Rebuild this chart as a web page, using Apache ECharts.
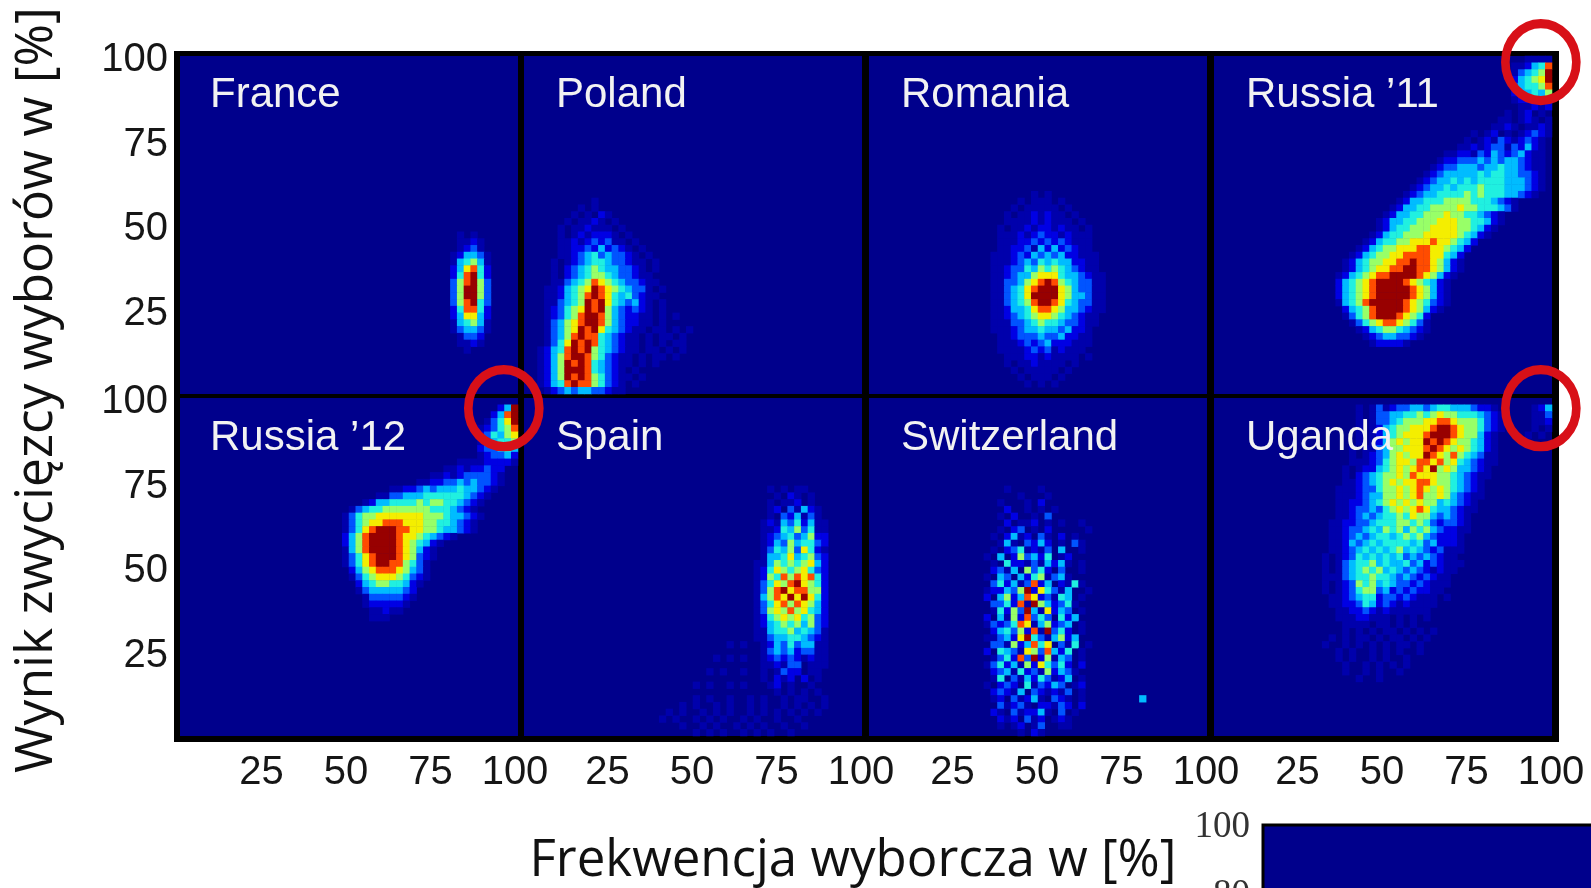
<!DOCTYPE html>
<html><head><meta charset="utf-8">
<style>html,body{margin:0;padding:0;background:#fff;overflow:hidden}#c{width:1591px;height:888px;filter:blur(0.7px)}</style>
<script src="https://cdn.jsdelivr.net/npm/echarts@6/dist/echarts.min.js"></script>
</head><body><div id="c"></div>
<script>
// Each entry: [row counted from the top, first column, intensity digits]; 50 x 50 bins of 2 %.
const franceRows = [
[26,39,"00101000"],[27,39,"00112100"],[28,39,"00123100"],[29,39,"01244310"],[30,39,"01456410"],
[31,39,"02478520"],[32,39,"02589520"],[33,39,"03689630"],[34,39,"03699630"],[35,39,"03699630"],
[36,39,"03689530"],[37,39,"02588520"],[38,39,"02477420"],[39,39,"01456410"],[40,39,"01344310"],
[41,39,"00133200"],[42,39,"00112100"],[43,39,"00010000"]];
const polandRows = [
[21,9,"01"],[22,8,"1010"],[23,7,"101021"],[24,6,"10112101"],[25,5,"1011211101"],[26,5,"10121222101"],
[27,5,"112123231101"],[28,5,"1122324232101"],[29,4,"011234534332101"],[30,4,"1012345543321101"],
[31,4,"1023456544332101"],[32,4,"1023456654332110"],[33,4,"1134568765433211"],[34,3,"112456798765433101"],
[35,3,"112456898754532110"],[36,3,"113456989754342101"],[37,3,"123567989643232101"],[38,3,"12356899864322110101"],
[39,3,"1346789986432211010"],[40,3,"1346798975432110110101"],[41,3,"1346898854321101011010"],
[42,2,"01357989854321101010110"],[43,2,"1245898965432110110101"],[44,2,"1246899865321101011010"],
[45,2,"1246989854321101010"],[46,2,"1246999854321010"],[47,2,"1246989865321101"],[48,2,"1245898865321010"],[49,3,"123434433211"]];
const romaniaRows = [
[20,15,"000000000101000000000"],[21,15,"000000010111010000000"],[22,15,"000000101111101000000"],
[23,15,"000001011212110100000"],[24,15,"000001111212111010000"],[25,15,"000010112122121101000"],
[26,15,"000011121232212111000"],[27,15,"000011122323232111000"],[28,15,"000011223142423211000"],
[29,15,"000111232434342211100"],[30,15,"000111234354544221100"],[31,15,"000112335465654321100"],
[32,15,"000112344677754432110"],[33,15,"000113346789865433110"],[34,15,"000113457899976433110"],
[35,15,"000113457999976443110"],[36,15,"000113456899875433110"],[37,15,"000112445788764432110"],
[38,15,"000112345677654321100"],[39,15,"000111334565543321100"],[40,15,"000111234454434221000"],
[41,15,"000011233343342211000"],[42,15,"000011123234222111000"],[43,15,"000011112323121110000"],
[44,15,"000001112212111101000"],[45,15,"000001011211110100000"],[46,15,"000000101111101000000"],
[47,15,"000000010111010000000"],[48,15,"000000001010100000000"]];
const russia11Rows = [
[0,46,"1111"],[1,44,"112458"],[2,44,"134569"],[3,44,"245679"],[4,44,"345568"],[5,44,"244546"],[6,44,"122323"],[7,44,"011212"],
[8,42,"01012010"],[9,41,"011012101"],[10,40,"0112101121"],[11,37,"0101201012321"],[12,36,"01012132123210"],
[13,35,"011212331324210"],[14,33,"01122132432342110"],[15,32,"012233343434432110"],[16,31,"0123344434454432110"],
[17,30,"01234444454554433210"],[18,29,"012344545455554443210"],[19,28,"0123445455565554443210"],
[20,27,"01234455556565554432100"],[21,27,"124455566665554321"],[22,26,"1244556666766555431"],
[23,25,"124455666766554321"],[24,24,"1244556667776655421"],[25,23,"0124556667777665421"],
[26,22,"0124556667777765421"],[27,21,"012455667778776542"],[28,20,"012456677788776542"],
[29,19,"012456677888877542"],[30,19,"124566778898876421"],[31,18,"0124567788998876421"],
[32,18,"124567889999876421"],[33,18,"24567899998765421"],[34,18,"24567899999876421"],[35,18,"24567899999876421"],
[36,18,"14568999998765321"],[37,18,"0245689999876421"],[38,19,"1356899987652"],[39,20,"135678876531"],
[40,21,"12456654321"],[41,22,"123443321"],[42,23,"122221"]];
const russia12Rows = [
[1,47,"249"],[2,46,"2489"],[3,45,"13579"],[4,44,"123568"],[5,44,"235467"],[6,44,"134556"],[7,44,"233454"],[8,44,"123342"],
[9,41,"111122221"],[10,38,"0112122322"],[11,36,"011212333321"],[12,34,"01122334343321"],[13,30,"01122343444544321"],
[14,28,"0113344455555543210"],[15,26,"0124455556566554321"],[16,25,"13455666666655543210"],[17,24,"135667777777666544321"],
[18,23,"013567788877766554321"],[19,24,"13578999887766544321"],[20,24,"246899998776543210"],[21,24,"2468999987654210"],
[22,24,"14689999876421"],[23,24,"13578999876321"],[24,24,"1357899886531"],[25,25,"246788876431"],
[26,25,"135677765321"],[27,26,"2456655421"],[28,26,"134444432"],[29,27,"13333321"],[30,27,"1222221"],[31,28,"11211"],[32,28,"111"]];
const spainRows = [
[13,33,"0001010110000"],[14,33,"0000102101000"],[15,33,"0001011201000"],[16,33,"0001203142100"],[17,33,"0001032413100"],
[18,33,"0012143524110"],[19,33,"0011254635110"],[20,33,"0012345346220"],[21,33,"0012436455320"],[22,33,"0013546375210"],
[23,33,"0014457456320"],[24,33,"0114656567420"],[25,33,"0125765675320"],[26,33,"0126586878520"],[27,33,"0135768976520"],
[28,33,"0136897886620"],[29,33,"0146879797520"],[30,33,"0135786876420"],[31,33,"0136768675420"],[32,33,"0125676756320"],
[33,33,"0124565646320"],[34,33,"0114556454310"],[35,33,"0113445543210"],[36,33,"0012435344110"],[37,33,"0013434233110"],
[38,33,"0012323212110"],[39,33,"0011213301110"],[40,33,"0010132201100"],[41,33,"0010212020100"],[42,33,"0001201001000"],
[43,33,"0000101010100"],[36,29,"0101"],[38,27,"010101"],[40,26,"0101001"],[42,25,"10100101"],
[44,24,"0101001001010010110010"],[45,22,"01010010100101001010101"],[46,20,"0101001010100101010101010"],
[47,20,"1010010101001010010010"],[48,22,"01001010010101001001"],[49,24,"0101010010101001"]];
const switzerlandRows = [
[13,16,"000010000100000000"],[14,16,"000000100010000000"],[15,16,"000100010200000000"],[16,16,"000020010101000000"],
[17,16,"000102001030000000"],[18,16,"000020112010100100"],[19,16,"000102301020000010"],[20,16,"001024120310201000"],
[21,16,"000141032420103100"],[22,16,"001023512130400100"],[23,16,"010402634250120000"],[24,16,"001052213142410100"],
[25,16,"002314063520300100"],[26,16,"010430425613410000"],[27,16,"003524138240215100"],[28,16,"012243692753140010"],
[29,16,"020462487231540100"],[30,16,"003352819642351000"],[31,16,"001526394172430100"],[32,16,"020416283530524000"],
[33,16,"013235871462340100"],[34,16,"002453628193520100"],[35,16,"011342795314624000"],[36,16,"003316248570315010"],
[37,16,"020543176384250100"],[38,16,"001352839261430100"],[39,16,"013524162753520200"],[40,16,"002341523162431000"],
[41,16,"001503142531240100"],[42,16,"010232051324301200"],[43,16,"002321403212130100"],[44,16,"001203124103210100"],
[45,16,"000312310221320200"],[46,16,"002103122410301000"],[47,16,"000212031201210000"],[48,16,"000101201300110000"],
[49,16,"000000102100000000"],[44,40,"4"]];
const ugandaRows = [
[1,14,"00000001013123344345544432210000"],[2,14,"00000001013344556567665554321000"],[3,14,"00000001013345666778876665321000"],
[4,14,"00000001012456677789987665321000"],[5,14,"00000001012456777899987664210000"],[6,14,"00000001012467677989876654210000"],
[7,14,"00000010113466777898767654210000"],[8,14,"00000010123467677987686543110000"],[9,14,"00000011123567768878675432110000"],
[10,14,"00000101224567678796764432100000"],[11,14,"00000102345667687776654321100000"],[12,14,"00000112345676778876654321000000"],
[13,14,"00001112335667678767654321000000"],[14,14,"00001112344667678667643211000000"],[15,14,"00001122345676767664543210000000"],
[16,14,"00001123343567678754432110000000"],[17,14,"00001123434556576643432100000000"],[18,14,"00011223345556656532332100000000"],
[19,14,"00011233454656465643221100000000"],[20,14,"00011234345545656432221000000000"],[21,14,"00011243454555545342221000000000"],
[22,14,"00011234545456454323111000000000"],[23,14,"00101235454545343432110000000000"],[24,14,"00101345564544534232111000000000"],
[25,14,"00101345656454343212110000000000"],[26,14,"00111345565543432321100000000000"],[27,14,"00101236564543323211100000000000"],
[28,14,"00101235663423232211000000000000"],[29,14,"00011234552332321110100000000000"],[30,14,"00011223542321211110000000000000"],
[31,14,"00001122321211111100000000000000"],[32,14,"00001112211101010100000000000000"],[33,14,"00000111101101010000000000000000"],
[34,14,"00000101010110101010000000000000"],[35,16,"0101011010110101"],[36,16,"1001010101011010"],[37,17,"01010010101001"],
[38,18,"101001010010"],[39,18,"01001010101"],[40,19,"100101001"],[41,20,"0100100"],
[1,47,"124"],[2,47,"113"],[3,47,"112"],[4,47,"101"],[5,46,"1010"]];

const panelNames = ["France","Poland","Romania","Russia ’11","Russia ’12","Spain","Switzerland","Uganda"];
const panelRows = [franceRows,polandRows,romaniaRows,russia11Rows,russia12Rows,spainRows,switzerlandRows,ugandaRows];
const axisTicks = [0,25,50,75,100];
const barTicks = [100,80];
const ringPoints = [[3,96.7,98.2],[4,95.8,97],[7,96.7,97]];
const xTitle = "Frekwencja wyborcza w [%]";
const yTitle = "Wynik zwycięzcy wyborów w [%]";
const colours = ["#00008c","#0000ac","#0000e4","#0054ff","#00bcff","#20f0e0","#98ff68","#f4ee00","#ff4c00","#980000"];

const BINS = 50;
const binCats = [];
for (let i=0;i<BINS;i++) binCats.push(String(i*2));
const lefts=[180,524,869,1214], tops=[56,398], W=338, H=338;
const grid=[],xAxis=[],yAxis=[],series=[],graphicEls=[];
const SANS='"Liberation Sans",Arial,sans-serif';

panelRows.forEach((rows,p)=>{
  const col=p%4,row=p<4?0:1;
  grid.push({left:lefts[col],top:tops[row],width:W,height:H,show:true,backgroundColor:colours[0],borderWidth:0,outerBoundsMode:'none'});
  xAxis.push({gridIndex:p,type:'category',data:binCats,show:false});
  yAxis.push({gridIndex:p,type:'category',data:binCats,show:false});
  xAxis.push({gridIndex:p,type:'value',min:0,max:100,interval:25,position:'bottom',
    axisLine:{show:false},axisTick:{show:false},splitLine:{show:false},
    axisLabel:{show:row===1,margin:17,fontFamily:SANS,fontSize:40,color:'#161616',padding:[0,col===0?6:2,0,0],hideOverlap:false,
      formatter:v=>axisTicks.includes(v)&&v>0?String(v):''}});
  yAxis.push({gridIndex:p,type:'value',min:0,max:100,interval:25,position:'left',
    axisLine:{show:false},axisTick:{show:false},splitLine:{show:false},
    axisLabel:{show:col===0,margin:12,fontFamily:SANS,fontSize:40,color:'#161616',verticalAlign:'top',lineHeight:8,
      formatter:v=>axisTicks.includes(v)&&v>0?String(v):''}});
  const data=[];
  rows.forEach(([r,c,s])=>{
    for(let i=0;i<s.length;i++){const v=+s[i]; if(v>0) data.push([c+i,BINS-1-r,v]);}
  });
  series.push({type:'heatmap',name:panelNames[p],xAxisIndex:p*2,yAxisIndex:p*2,data,progressive:0,animation:false,
    itemStyle:{borderWidth:0},emphasis:{disabled:true}});
  graphicEls.push({type:'text',x:lefts[col]+30+(col>0?2:0),y:tops[row]+(row?40:39),z:20,
    style:{text:panelNames[p],fill:'#f2f2f2',font:'42px '+SANS,textAlign:'left',textVerticalAlign:'middle'}});
});
// empty ninth panel, cut by the page edge
const bp=panelRows.length;
grid.push({left:1263,top:825,width:345,height:343,show:true,backgroundColor:colours[0],borderColor:'#000',borderWidth:3,outerBoundsMode:'none'});
xAxis.push({gridIndex:bp,type:'value',min:0,max:100,interval:20,position:'top',axisLine:{show:false},
  axisTick:{show:true,inside:true,length:6,lineStyle:{color:'#00004a',width:2}},splitLine:{show:false},axisLabel:{show:false}});
yAxis.push({gridIndex:bp,type:'value',min:0,max:100,interval:20,position:'left',axisLine:{show:false},axisTick:{show:false},
  splitLine:{show:false},axisLabel:{margin:13,fontFamily:'"Liberation Serif",serif',fontSize:37,color:'#333',hideOverlap:false,verticalAlign:'top',lineHeight:4,
  formatter:v=>barTicks.includes(v)?String(v):''}});

ringPoints.forEach(([p,x,y])=>{
  series.push({type:'scatter',xAxisIndex:p*2+1,yAxisIndex:p*2+1,data:[[x,y]],clip:false,z:30,animation:false,
    symbol:'circle',symbolSize:[71,77],silent:true,
    itemStyle:{color:'rgba(0,0,0,0)',borderColor:'#d81018',borderWidth:9,opacity:1}});
});
graphicEls.push({type:'rect',z:-10,shape:{x:174,y:51,width:1385,height:691},style:{fill:'#000'}});
graphicEls.push({type:'text',x:853,y:861,z:20,style:{text:xTitle,fill:'#111',font:'51px "Open Sans",sans-serif',textAlign:'center',textVerticalAlign:'middle'}});
graphicEls.push({type:'text',x:37,y:390,rotation:Math.PI/2,z:20,style:{text:yTitle,fill:'#111',font:'51.5px "Open Sans",sans-serif',textAlign:'center',textVerticalAlign:'middle'}});

const chart=echarts.init(document.getElementById('c'),null,{renderer:'canvas'});
chart.setOption({animation:false,backgroundColor:'#fff',grid,xAxis,yAxis,series,
  visualMap:{show:false,type:'continuous',min:0,max:9,seriesIndex:panelRows.map((_,i)=>i),inRange:{color:colours}},
  graphic:{elements:graphicEls}});
</script></body></html>
